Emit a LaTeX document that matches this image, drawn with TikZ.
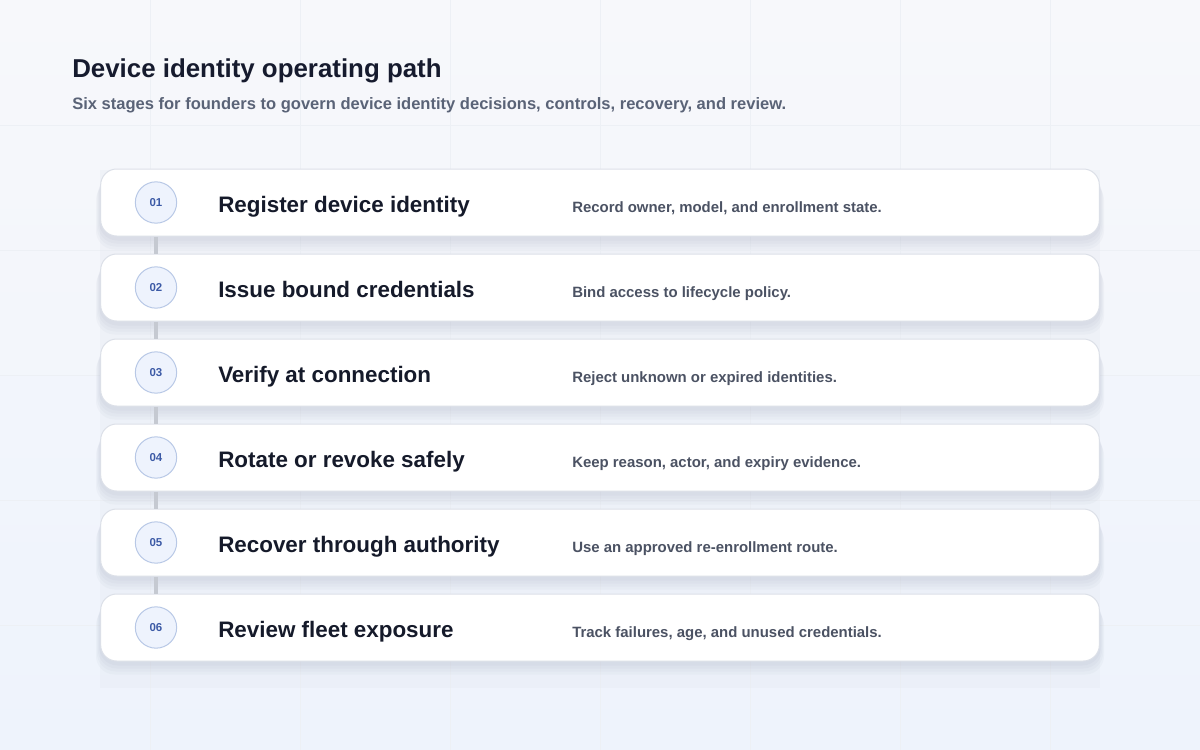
\documentclass[tikz,border=0pt]{standalone}
\usepackage{fontspec}
\setmainfont{Liberation Sans}
\usetikzlibrary{positioning}

\definecolor{pagebgtop}{HTML}{F7F8FB}
\definecolor{pagebgbot}{HTML}{EEF3FC}
\definecolor{gridline}{HTML}{EDF0F5}
\definecolor{panelbg}{HTML}{E6EAF2}
\definecolor{shadowink}{HTML}{4A5578}
\definecolor{headink}{HTML}{161B2E}
\definecolor{subink}{HTML}{5A6377}
\definecolor{stepink}{HTML}{151A2A}
\definecolor{descink}{HTML}{4B5263}
\definecolor{numink}{HTML}{3C5AA6}
\definecolor{numfill}{HTML}{EEF3FD}
\definecolor{numborder}{HTML}{B8C8E6}
\definecolor{cardborder}{HTML}{DCE0E8}
\definecolor{linkgray}{HTML}{C5C9D1}

\begin{document}
\begin{tikzpicture}[
            x=0.75pt, y=-0.75pt,
            every node/.style={ inner sep=0pt },
            card/.style={ draw=cardborder, line width=0.75pt, fill=white, rounded corners=12pt,
                          minimum width=749pt, minimum height=50.25pt },
            cardshadow/.style={ fill=shadowink, fill opacity=0.03, rounded corners=14pt },
            num/.style={ circle, draw=numborder, line width=0.75pt, fill=numfill, minimum size=31pt,
                         font=\fontsize{8.6}{10}\bfseries, text=numink },
            steptitle/.style={ anchor=base west, font=\fontsize{16.8}{19}\bfseries, text=stepink },
            stepdesc/.style={ anchor=base west, font=\fontsize{11.2}{13}\bfseries, text=descink },
            link/.style={ draw=linkgray, line width=3pt }
        ]

        % page and faint grid
        \shade[top color=pagebgtop, bottom color=pagebgbot] (0,0) rectangle (1200,750);
        \useasboundingbox (0,0) rectangle (1200,750);
        \foreach \gx in {150,300,...,1050} { \draw[gridline, line width=0.75pt] (\gx,0) -- (\gx,750); }
        \foreach \gy in {125,250,...,625} { \draw[gridline, line width=0.75pt] (0,\gy) -- (1200,\gy); }
        \fill[panelbg, opacity=0.35] (100,170) rectangle (1100,688);

        % heading
        \node[anchor=base west, font=\fontsize{19.4}{23}\bfseries, text=headink] (heading) at (72,77) {Device identity operating path};
        \node[anchor=base west, font=\fontsize{12.4}{14}\bfseries, text=subink] (subheading) at (72,109)
            {Six stages for founders to govern device identity decisions, controls, recovery, and review.};

        % stages
        \foreach \t/\d [count=\i] in {
                Register device identity/{Record owner, model, and enrollment state.},
                Issue bound credentials/{Bind access to lifecycle policy.},
                Verify at connection/{Reject unknown or expired identities.},
                Rotate or revoke safely/{Keep reason, actor, and expiry evidence.},
                Recover through authority/{Use an approved re-enrollment route.},
                Review fleet exposure/{Track failures, age, and unused credentials.}} {
            \foreach \s in {3,6,9,12} {
                \fill[cardshadow] (100-\s/3,84.5+85*\i+\s) rectangle (1100+\s/3,152.5+85*\i+\s);
            }
            \node[card] (card\i) at (600,117.5+85*\i) {};
            \node[num] (num\i) at (156,117.5+85*\i) {0\i};
            \node[steptitle] (title\i) at (218,127+85*\i) {\t};
            \node[stepdesc] (desc\i) at (572,127+85*\i) {\d};
        }

        % links between stages
        \foreach \i [evaluate=\i as \j using int(\i+1)] in {1,...,5} {
            \draw[link] (card\i.south -| num\i) -- (card\j.north -| num\j);
        }
    \end{tikzpicture}
\end{document}
